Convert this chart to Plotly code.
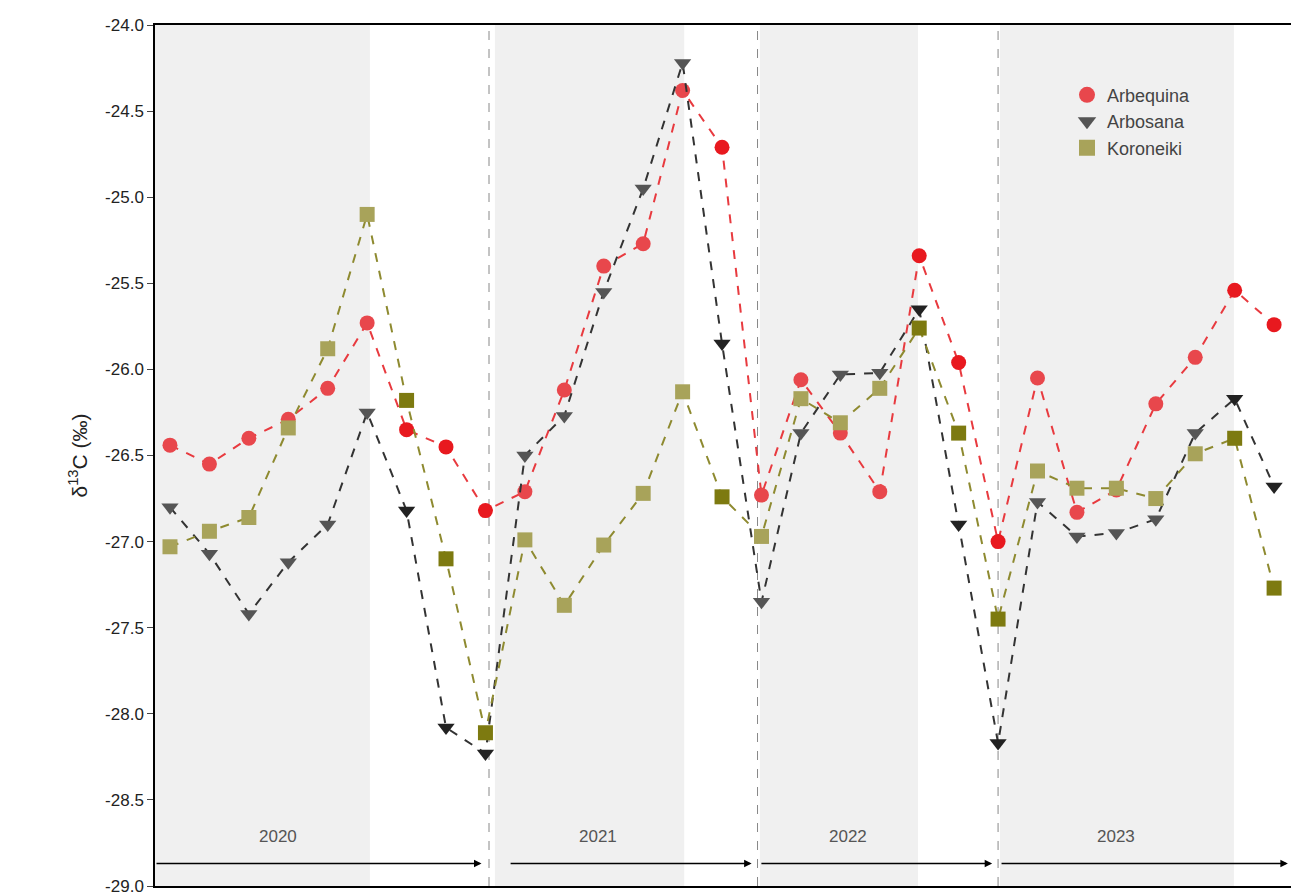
import plotly.graph_objects as go

idx = list(range(29))
arbequina = [-26.44,-26.55,-26.40,-26.29,-26.11,-25.73,-26.35,-26.45,-26.82,
             -26.71,-26.12,-25.40,-25.27,-24.38,-24.71,
             -26.73,-26.06,-26.37,-26.71,-25.34,-25.96,
             -27.00,-26.05,-26.83,-26.70,-26.20,-25.93,-25.54,-25.74]
arbosana = [-26.80,-27.07,-27.42,-27.12,-26.90,-26.25,-26.82,-28.08,-28.23,
            -26.50,-26.27,-25.55,-24.95,-24.22,-25.85,
            -27.35,-26.37,-26.03,-26.02,-25.65,-26.90,
            -28.17,-26.77,-26.97,-26.95,-26.87,-26.37,-26.17,-26.68]
koroneiki = [-27.03,-26.94,-26.86,-26.34,-25.88,-25.10,-26.18,-27.10,-28.11,
             -26.99,-27.37,-27.02,-26.72,-26.13,-26.74,
             -26.97,-26.17,-26.31,-26.11,-25.76,-26.37,
             -27.45,-26.59,-26.69,-26.69,-26.75,-26.49,-26.40,-27.27]
years = ["2020","2021","2022","2023"]
year_x = [2.74,10.85,17.2,24.0]
shaded = [(-0.38,5.07),(8.24,13.04),(14.96,18.97),(21.05,26.98)]
arrows = [(-0.38,7.9),(8.6,14.75),(14.96,20.85),(21.05,28.35)]
vlines = [8.09,14.9,21.0]
ytickvals = [-29.0,-28.5,-28.0,-27.5,-27.0,-26.5,-26.0,-25.5,-25.0,-24.5,-24.0]
yticktext = ["%.1f" % v for v in ytickvals]

def inshade(i):
    return any(a <= i <= b for a,b in shaded)

fig = go.Figure()
series = [("Arbequina", arbequina, "circle", "#e8474c", "#e8191f", "#e83a3f"),
          ("Arbosana", arbosana, "triangle-down", "#555555", "#222222", "#333333"),
          ("Koroneiki", koroneiki, "square", "#a8a35a", "#7d7a10", "#8e8a30")]
for name, ys, sym, light, dark, lc in series:
    cols = [light if inshade(i) else dark for i in idx]
    fig.add_trace(go.Scatter(x=idx, y=ys, name=name, mode="lines+markers", showlegend=False,
        line=dict(color=lc, dash="dash", width=2),
        marker=dict(symbol=sym, size=15, color=cols, line=dict(width=0))))
    fig.add_trace(go.Scatter(x=[None], y=[None], name=name, mode="markers",
        marker=dict(symbol=sym, size=17, color=light, line=dict(width=0))))

shapes = []
for a,b in shaded:
    shapes.append(dict(type="rect", xref="x", yref="y", x0=a, x1=b, y0=-29, y1=-24,
                       fillcolor="#f0f0f0", line=dict(width=0), layer="below"))
for v in vlines:
    shapes.append(dict(type="line", xref="x", yref="y", x0=v, x1=v, y0=-29, y1=-24,
                       line=dict(color="#888888", width=1, dash="dash"), layer="below"))
fig.update_layout(shapes=shapes)
for a,b in arrows:
    fig.add_annotation(x=b, y=-28.87, ax=a, ay=-28.87, xref="x", yref="y", axref="x", ayref="y",
                       showarrow=True, arrowhead=2, arrowsize=1, arrowwidth=1.5, arrowcolor="black", text="")
for t,x in zip(years, year_x):
    fig.add_annotation(x=x, y=-28.71, text=t, showarrow=False, font=dict(size=17, color="#555555"))

fig.update_layout(
    width=1299, height=896, margin=dict(l=147, r=12, t=17, b=18, autoexpand=False),
    plot_bgcolor="white", paper_bgcolor="white",
    font=dict(family="Arial, Liberation Sans", size=17, color="#222"),
    xaxis=dict(range=[-0.38,28.53], showticklabels=False, ticks="", showgrid=False, automargin=False,
               zeroline=False, showline=True, linecolor="black", linewidth=1.5, mirror=True),
    yaxis=dict(range=[-29,-24], tickvals=ytickvals, ticktext=yticktext, ticks="outside", ticklen=6,
               automargin=False, showgrid=False, zeroline=False, showline=True, linecolor="black",
               linewidth=1.5, mirror=True, title=dict(text="δ<sup>13</sup>C (‰)", font=dict(size=21), standoff=12)),
    legend=dict(x=0.8, y=0.94, bgcolor="rgba(0,0,0,0)", font=dict(size=18, color="#444")),
)
fig.write_html("out.html")
